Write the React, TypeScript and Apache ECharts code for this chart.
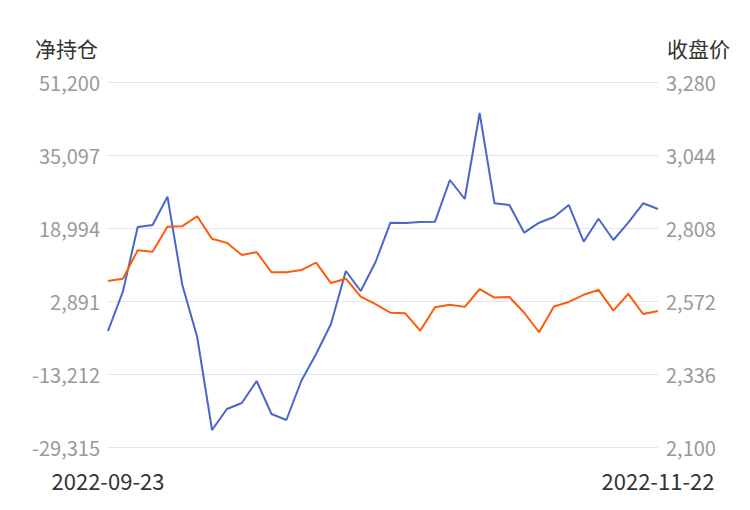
import React, { useEffect, useRef } from "react";
import * as echarts from "echarts";

const dates = [
  "2022-09-23", "2022-09-26", "2022-09-27", "2022-09-28", "2022-09-29", "2022-09-30",
  "2022-10-10", "2022-10-11", "2022-10-12", "2022-10-13", "2022-10-14",
  "2022-10-17", "2022-10-18", "2022-10-19", "2022-10-20", "2022-10-21",
  "2022-10-24", "2022-10-25", "2022-10-26", "2022-10-27", "2022-10-28",
  "2022-10-31", "2022-11-01", "2022-11-02", "2022-11-03", "2022-11-04",
  "2022-11-07", "2022-11-08", "2022-11-09", "2022-11-10", "2022-11-11",
  "2022-11-14", "2022-11-15", "2022-11-16", "2022-11-17", "2022-11-18",
  "2022-11-21", "2022-11-22",
];

const netPosition = [
  -3727, 4942, 19215, 19656, 25898, 6420, -5050, -25565, -20933, -19609, -14756,
  -22036, -23359, -14756, -8800, -2183, 9509, 5097, 11494, 20163, 20097,
  20318, 20384, 29582, 25391, 44362, 24443, 24068, 17957, 20163, 21420,
  24068, 15972, 21046, 16347, 20163, 24443, 23185,
];

const closePrice = [
  2637, 2644, 2736, 2731, 2812, 2814, 2846, 2773, 2760, 2721, 2730,
  2665, 2665, 2672, 2696, 2630, 2644, 2586, 2562, 2534, 2532,
  2476, 2552, 2560, 2553, 2610, 2583, 2585, 2534, 2471, 2554,
  2569, 2592, 2608, 2541, 2595, 2530, 2540,
];

const leftMin = -29315;
const leftMax = 51200;
const leftInterval = 16103;
const rightMin = 2100;
const rightMax = 3280;
const rightInterval = 236;

export default function App() {
  const ref = useRef<HTMLDivElement>(null);
  useEffect(() => {
    if (!ref.current) return;
    const chart = echarts.init(ref.current, null, { renderer: "svg" });
    const font = "'Noto Sans CJK SC', 'Noto Sans', sans-serif";
    const last = dates.length - 1;
    chart.setOption({
      animation: false,
      grid: { left: 108, right: 92, top: 82, bottom: 63 },
      xAxis: {
        type: "category",
        data: dates,
        boundaryGap: false,
        axisLine: { show: false },
        axisTick: { show: false },
        axisLabel: {
          interval: (i: number) => i === 0 || i === last,
          color: "#333",
          fontSize: 22,
          fontFamily: font,
          margin: 22,
        },
      },
      yAxis: [
        {
          type: "value",
          min: leftMin,
          max: leftMax,
          interval: leftInterval,
          name: "净持仓",
          nameLocation: "end",
          nameGap: 24,
          nameTextStyle: { color: "#333", fontSize: 21, fontFamily: font, align: "right", padding: [0, 10, 0, 0] },
          axisLine: { show: false },
          axisTick: { show: false },
          axisLabel: {
            color: "#999",
            fontSize: 20,
            fontFamily: font,
            margin: 8,
            formatter: (v: number) => v.toLocaleString("en-US"),
          },
          splitLine: { lineStyle: { color: "#E0E6F1" } },
        },
        {
          type: "value",
          min: rightMin,
          max: rightMax,
          interval: rightInterval,
          name: "收盘价",
          nameLocation: "end",
          nameGap: 24,
          nameTextStyle: { color: "#333", fontSize: 21, fontFamily: font, align: "left", padding: [0, 0, 0, 9] },
          axisLine: { show: false },
          axisTick: { show: false },
          axisLabel: {
            color: "#999",
            fontSize: 20,
            fontFamily: font,
            margin: 8,
            formatter: (v: number) => v.toLocaleString("en-US"),
          },
          splitLine: { show: false },
        },
      ],
      series: [
        {
          name: "净持仓",
          type: "line",
          data: netPosition,
          yAxisIndex: 0,
          symbol: "none",
          lineStyle: { color: "#4a67c8", width: 2 },
          itemStyle: { color: "#4a67c8" },
        },
        {
          name: "收盘价",
          type: "line",
          data: closePrice,
          yAxisIndex: 1,
          symbol: "none",
          lineStyle: { color: "#ff5a0a", width: 2 },
          itemStyle: { color: "#ff5a0a" },
        },
      ],
    });
    return () => chart.dispose();
  }, []);
  return <div ref={ref} style={{ width: 750, height: 510, position: "absolute", left: 0, top: 0 }} />;
}
